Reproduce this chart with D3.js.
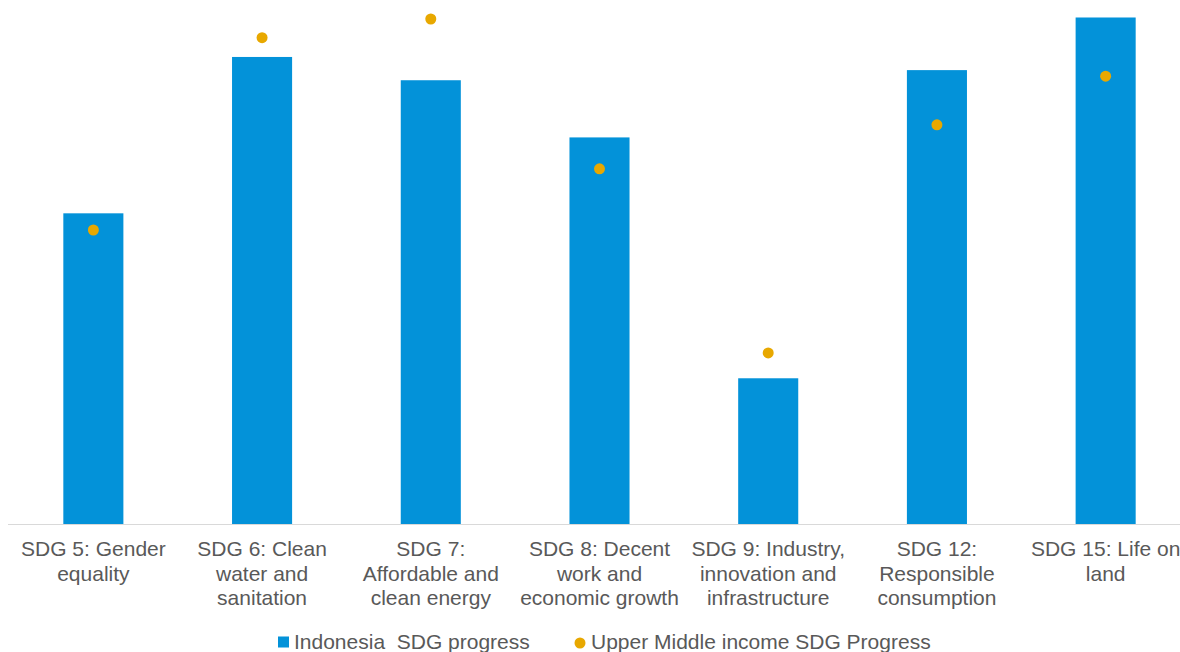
<!DOCTYPE html>
<html>
<head>
<meta charset="utf-8">
<script src="https://cdn.jsdelivr.net/npm/d3@7"></script>
<style>
  body { margin: 0; background: #fff; }
  text { font-family: "Liberation Sans", Arial, sans-serif; fill: #595959; }
</style>
</head>
<body>
<script>
var categories = [
  ["SDG 5: Gender", "equality"],
  ["SDG 6: Clean", "water and", "sanitation"],
  ["SDG 7:", "Affordable and", "clean energy"],
  ["SDG 8: Decent", "work and", "economic growth"],
  ["SDG 9: Industry,", "innovation and", "infrastructure"],
  ["SDG 12:", "Responsible", "consumption"],
  ["SDG 15: Life on", "land"]
];
var indonesia = [61.4, 92.3, 87.7, 76.4, 28.8, 89.7, 100.1];
var upperMiddle = [58.1, 96.1, 99.8, 70.2, 33.8, 78.9, 88.5];
var seriesNames = ["Indonesia  SDG progress", "Upper Middle income SDG Progress"];

var width = 1180, height = 652,
    margin = {left: 9, right: -10, top: 18, bottom: 128};

var svg = d3.select("body").append("svg")
    .attr("width", width)
    .attr("height", height);

var x = d3.scaleBand()
    .domain(d3.range(categories.length))
    .range([margin.left, width - margin.right])
    .paddingInner(0.644)
    .paddingOuter(0.322);

var y = d3.scaleLinear()
    .domain([0, 100])
    .range([height - margin.bottom, margin.top]);

var baseline = y(0);

svg.append("line")
    .attr("x1", 8)
    .attr("x2", width)
    .attr("y1", baseline + 0.5)
    .attr("y2", baseline + 0.5)
    .attr("stroke", "#D9D9D9")
    .attr("stroke-width", 1);

svg.selectAll("rect.bar")
    .data(indonesia)
  .enter().append("rect")
    .attr("class", "bar")
    .attr("x", function(d, i) { return x(i); })
    .attr("width", x.bandwidth())
    .attr("y", function(d) { return y(d); })
    .attr("height", function(d) { return baseline - y(d); })
    .attr("fill", "#0392D9");

svg.selectAll("circle.dot")
    .data(upperMiddle)
  .enter().append("circle")
    .attr("class", "dot")
    .attr("cx", function(d, i) { return x(i) + x.bandwidth() / 2; })
    .attr("cy", function(d) { return y(d); })
    .attr("r", 5.5)
    .attr("fill", "#E8A800");

var labels = svg.selectAll("text.cat")
    .data(categories)
  .enter().append("text")
    .attr("class", "cat")
    .attr("text-anchor", "middle")
    .attr("font-size", "21px")
    .attr("transform", function(d, i) {
      return "translate(" + (x(i) + x.bandwidth() / 2) + "," + (baseline + 32) + ")";
    });

labels.selectAll("tspan")
    .data(function(d) { return d; })
  .enter().append("tspan")
    .attr("x", 0)
    .attr("dy", function(d, i) { return i === 0 ? 0 : 24.5; })
    .text(function(d) { return d; });

// legend
var legend = svg.append("g").attr("transform", "translate(0,642)");

legend.append("rect")
    .attr("x", 278)
    .attr("y", -5.5)
    .attr("width", 11)
    .attr("height", 11)
    .attr("fill", "#0392D9");

legend.append("text")
    .attr("x", 294)
    .attr("y", 7)
    .attr("font-size", "21px")
    .style("white-space", "pre")
    .text(seriesNames[0]);

legend.append("circle")
    .attr("cx", 580)
    .attr("cy", 1)
    .attr("r", 5.5)
    .attr("fill", "#E8A800");

legend.append("text")
    .attr("x", 591)
    .attr("y", 7)
    .attr("font-size", "21px")
    .text(seriesNames[1]);
</script>
</body>
</html>
